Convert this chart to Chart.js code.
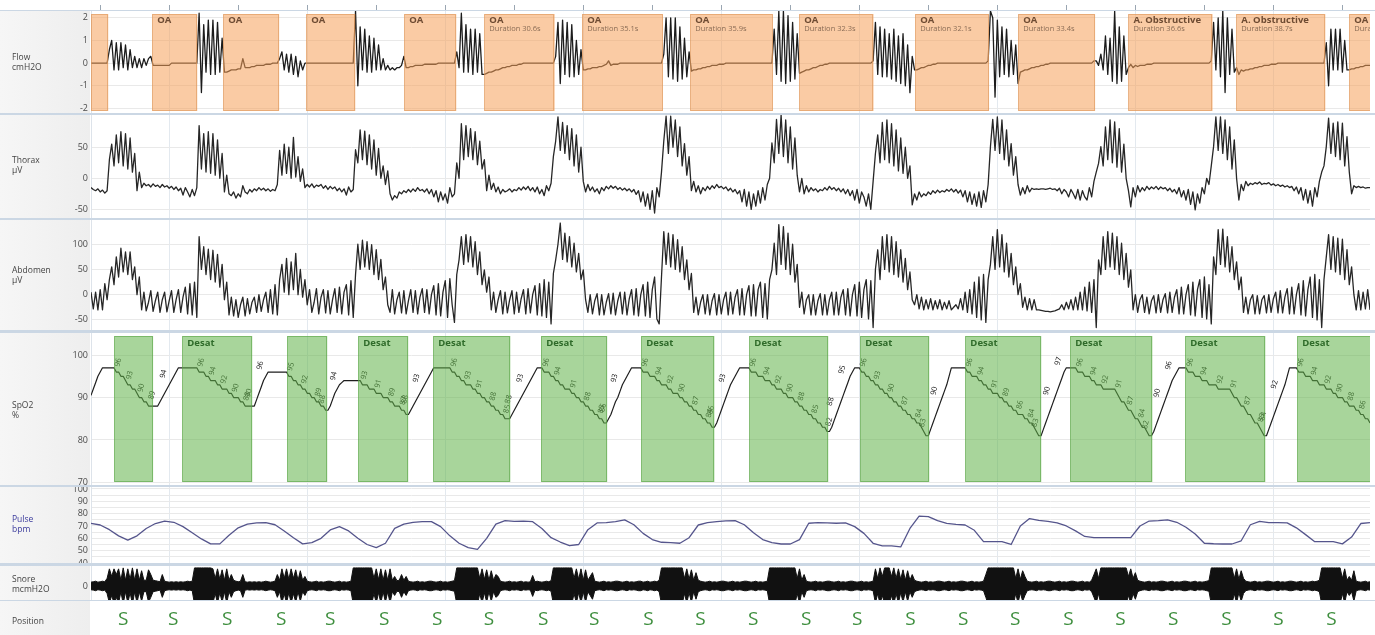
<!DOCTYPE html>
<html>
<head>
<meta charset="utf-8">
<script src="https://cdn.jsdelivr.net/npm/chart.js@4.4.1/dist/chart.umd.min.js"></script>
<style>
  body { margin: 0; background: #fff; width: 1375px; height: 635px; overflow: hidden; position: relative; font-family: "Open Sans", "DejaVu Sans", sans-serif; }
  .side { position: absolute; left: 0; width: 90px; background: linear-gradient(90deg, #f6f6f6, #eeeeee); }
  .sep { position: absolute; left: 0; width: 1375px; background: #cbd7e4; z-index: 5; }
  .lbl { position: absolute; left: 12px; font-size: 8.5px; line-height: 10px; color: #444; z-index: 6; }
  canvas { position: absolute; left: 0; }
</style>
</head>
<body>
<script>
// ---- time base: one sample per second from -4 s, pulse every 4 s ----
const T0 = -4;
const X_MIN = -4, X_MAX = 552;
const xTicks = [0, 30, 60, 90, 120, 150, 180, 210, 240, 270, 300, 330, 360, 390, 420, 450, 480, 510, 540];

// ---- scored events (seconds) ----
const oaStart = [-4, 22.6, 53.5, 89.6, 132.2, 167, 209.5, 256.5, 303.9, 354.3, 399.1, 447, 493.9, 543];
const oaEnd = [3.5, 42.2, 77.8, 110.9, 154.8, 197.6, 244.6, 292.4, 336.2, 386.4, 432.5, 483.6, 532.6, 562];
const oaType = ['', 'OA', 'OA', 'OA', 'OA', 'OA', 'OA', 'OA', 'OA', 'OA', 'OA', 'A. Obstructive', 'A. Obstructive', 'OA'];
const oaDuration = [null, null, null, null, null, 30.6, 35.1, 35.9, 32.3, 32.1, 33.4, 36.6, 38.7, 31.2];

const desatStart = [6.1, 35.7, 81.3, 112.2, 144.8, 191.7, 235.2, 282.2, 330.4, 376.1, 421.7, 471.7, 520.4];
const desatEnd = [23.0, 66.1, 98.7, 133.9, 178.3, 220.4, 267.0, 316.5, 360.4, 409.1, 457.4, 506.5, 562];
const desatLabel = ['', 'Desat', '', 'Desat', 'Desat', 'Desat', 'Desat', 'Desat', 'Desat', 'Desat', 'Desat', 'Desat', 'Desat'];

const posTimes = [10, 31.7, 55.2, 78.7, 100, 123.5, 146.5, 169, 192.6, 214.8, 238.3, 260.9, 283.9, 306.9, 329.1, 352.2, 375.2, 397.8, 420.9, 443.5, 466.5, 489.6, 512.2, 535.2];
const posCodes = ['S', 'S', 'S', 'S', 'S', 'S', 'S', 'S', 'S', 'S', 'S', 'S', 'S', 'S', 'S', 'S', 'S', 'S', 'S', 'S', 'S', 'S', 'S', 'S'];

// ---- tick values ----
const flowTicks = [-2, -1, 0, 1, 2];
const thoraxTicks = [-50, 0, 50];
const abdomenTicks = [-50, 0, 50, 100];
const spo2Ticks = [70, 80, 90, 100];
const pulseTicks = [40, 45, 50, 55, 60, 65, 70, 75, 80, 85, 90, 95, 100];
const snoreTicks = [0];

// ---- Flow, cmH2O (1 s) ----
const flow = [
  0,0,0,0,0,0,0,0,
  0.6,1.0,-0.3,0.9,-0.3,0.9,-0.2,0.8,-0.3,0.6,-0.2,0.3,-0.2,0.2,-0.2,0.2,-0.1,0.2,0.3,
  -0.1,-0.1,-0.1,-0.1,-0.1,-0.1,-0.1,-0.1,0,0,0,0,0,0,0,0,0,0,0,0,
  2.2,-1.3,1.7,-0.4,1.9,-0.5,1.9,-0.5,1.8,-0.4,1.1,
  -0.4,-0.4,-0.35,-0.3,-0.3,-0.3,-0.25,-0.25,0.2,-0.2,-0.2,-0.2,-0.15,-0.15,-0.1,-0.1,-0.1,-0.1,-0.05,-0.05,-0.05,0,0,0,
  0.2,0.5,-0.3,0.4,-0.4,0.4,-0.5,0.3,-0.6,0.1,-0.3,0,
  0,0,0,0,0,0,0,0,0,0,0,0,0,0,0,0,0,0,0,0,0,
  2.3,-1.0,1.6,-0.3,1.5,-0.4,1.2,-0.4,1.1,-0.3,0.8,-0.3,0.2,-0.3,-0.1,-0.3,-0.2,-0.3,-0.2,-0.2,-0.1,0.3,
  -0.2,-0.2,-0.15,-0.15,-0.1,-0.1,-0.1,-0.1,-0.05,-0.05,-0.05,-0.05,-0.05,-0.05,0,0,0,0,0,0,0,0,
  0.5,-0.2,2.2,-0.4,1.7,-0.4,1.5,-0.5,1.5,-0.4,1.3,-0.5,
  -0.5,-0.45,-0.4,-0.4,-0.35,-0.3,-0.3,-0.25,-0.2,-0.2,-0.15,-0.15,-0.1,-0.1,-0.1,-0.05,-0.05,0,0,0,0,0,0,0,0,0,0,0,0,0,0,
  0.3,1.8,-0.9,1.9,-0.5,1.8,-0.6,1.7,-0.6,1.0,-0.5,0.6,
  -0.3,-0.3,-0.25,-0.25,-0.2,-0.2,-0.2,-0.15,-0.15,-0.1,-0.05,0.1,-0.1,-0.05,-0.05,-0.05,0,0,0,0,0,0,0,0,0,0,0,0,0,0,0,0,0,0,0,
  0.4,2.0,-0.6,2.0,-0.7,2.0,-0.8,1.6,-0.7,1.1,-0.6,0.5,
  -0.35,-0.3,-0.3,-0.25,-0.25,-0.2,-0.2,-0.15,-0.15,-0.1,-0.1,-0.1,-0.05,-0.05,-0.05,0,0,0,0,0,0,0,0,0,0,0,0,0,0,0,0,0,0,0,0,0,
  1.5,-0.5,2.3,-0.8,2.3,-0.9,2.1,-0.8,1.8,-0.7,1.3,
  -0.45,-0.4,-0.35,-0.3,-0.3,-0.25,-0.2,-0.2,-0.15,-0.1,-0.1,-0.05,-0.05,0,0,0,0,0,0,0,0,0,0,0,0,0,0,0,0,0,0,0,0.1,
  1.8,-0.5,1.6,-0.6,1.5,-0.6,1.3,-0.7,1.5,-0.8,1.2,-0.9,1.3,-1.0,0.8,-1.3,0.3,-0.3,
  -0.3,-0.25,-0.2,-0.2,-0.15,-0.1,-0.1,-0.05,-0.05,0,0,0,0,0,0,0,0,0,0,0,0,0,0,0,0,0,0,0,0,0,0,0.1,
  2.3,2.0,-1.5,1.9,-0.6,1.6,-0.5,1.5,-0.6,1.0,-0.5,0.8,-0.9,
  -0.4,-0.35,-0.3,-0.3,-0.25,-0.2,-0.2,-0.15,-0.15,-0.1,-0.1,-0.05,-0.05,0,0,0,0,0,0,0,0,0,0,0,0,0,0,0,0,0,0,0,0.1,
  0.1,-0.1,0.4,-0.3,1.2,-0.5,1.1,-0.8,2.3,-0.9,1.6,-0.8,1.2,-0.5,
  -0.2,-0.05,-0.2,-0.1,-0.15,-0.1,-0.1,-0.1,-0.05,-0.05,-0.05,0,0,0,0,0,0,0,0,0,0,0,0,0,0,0,0,0,0,0,0,0,0,0,0,0,0.1,
  1.8,-0.3,2.0,-0.6,2.3,-1.3,2.0,-0.5,1.5,-0.4,
  -0.2,-0.5,-0.3,-0.35,-0.3,-0.3,-0.25,-0.25,-0.2,-0.2,-0.15,-0.15,-0.1,-0.1,-0.1,-0.05,-0.05,-0.05,0,0,0,0,0,0,0,0,0,0,0,0,0,0,0,0,0,0,0,0,0,
  0.9,-1.0,1.5,-0.3,1.5,-0.3,1.5,-0.4,1.0,-0.3,
  -0.3,-0.25,-0.25,-0.2,-0.2,-0.15,-0.15,-0.1,-0.1,-0.1
];

// ---- Thorax, µV (1 s) ----
const thorax = [
  -15,-18,-20,-17,-22,-19,-24,-20,
  30,55,20,70,25,75,20,72,15,65,10,40,-20,10,-15,
  -8,-12,-10,-14,-9,-13,-11,-15,-10,-14,-12,-16,-13,-18,-14,-20,-16,-27,-15,-22,-30,-18,-28,-15,
  85,15,72,10,75,8,72,5,62,0,40,-22,5,-25,
  -28,-22,-32,-25,-30,-12,-22,-25,-18,-22,-17,-20,-15,-19,-16,-20,-17,-21,-18,-20,-10,
  45,5,55,8,50,0,66,2,35,-5,15,-15,
  -10,-14,-9,-15,-11,-13,-10,-16,-12,-18,-13,-17,-14,-20,-16,-22,-17,-27,-14,-22,-18,
  46,25,78,30,76,22,70,15,62,5,48,0,20,-10,12,-25,
  -35,-28,-32,-22,-25,-20,-23,-18,-22,-17,-21,-15,-20,-18,-22,-17,-25,-18,-30,-20,-38,-22,-35,-25,-40,-15,-30,-25,
  25,0,88,30,85,35,80,30,75,22,60,15,30,
  -20,5,-18,-8,-22,-14,-25,-18,-22,-20,-17,-22,-18,-20,-15,-19,-14,-18,-13,-20,-15,-22,-14,-25,-18,-28,-12,-20,-8,
  35,60,99,45,90,40,85,30,80,20,70,10,50,-5,
  -22,-10,-20,-14,-22,-17,-25,-15,-20,-13,-17,-12,-16,-13,-18,-15,-19,-16,-20,-17,-22,-18,-26,-20,-38,-22,-45,-25,-50,-20,-56,-15,-30,
  10,60,100,40,100,50,94,35,83,20,56,5,35,
  -20,-5,-22,-12,-25,-15,-20,-13,-18,-12,-16,-10,-15,-13,-17,-14,-20,-16,-22,-18,-25,-20,-38,-18,-45,-22,-50,-25,-45,-20,-40,-15,-35,-10,0,
  57,25,95,40,102,35,94,25,83,15,65,5,
  -22,0,-25,-12,-22,-15,-20,-17,-22,-18,-20,-15,-19,-13,-18,-15,-20,-16,-22,-17,-25,-18,-28,-20,-35,-18,-40,-22,-30,-45,-25,-50,-5,
  40,70,25,90,30,94,25,88,20,78,12,65,8,50,0,20,-43,
  -25,-35,-22,-30,-25,-28,-22,-26,-20,-24,-19,-23,-20,-22,-18,-21,-17,-22,-18,-24,-19,-30,-20,-38,-22,-42,-25,-45,-22,-47,-20,-38,-10,
  51,95,45,99,40,94,30,78,20,56,5,35,-10,-27,
  -15,-25,-12,-22,-16,-18,-17,-18,-17,-17,-18,-17,-16,-18,-17,-20,-16,-25,-18,-22,-30,-18,-25,-33,-18,-35,-20,-30,-35,-15,-30,-5,
  10,24,51,20,83,30,94,25,91,18,80,10,55,0,
  -20,-46,-15,-30,-12,-22,-15,-20,-13,-18,-14,-17,-13,-18,-14,-17,-15,-20,-16,-22,-18,-25,-15,-30,-20,-35,-18,-42,-22,-51,-25,-40,-15,-25,0,-10,20,
  51,99,45,99,40,94,30,83,15,62,0,-35,
  -10,-20,-5,-12,-8,-10,-7,-9,-6,-10,-8,-9,-7,-11,-9,-12,-10,-13,-11,-14,-12,-15,-13,-20,-14,-25,-15,-35,-18,-40,-20,-45,-15,-30,-5,10,
  20,51,97,40,89,35,91,30,89,20,67,10,-25,
  -12,-15,-13,-15,-14,-16,-15,-15
];

// ---- Abdomen, µV (1 s) ----
const abdomen = [
  5,-28,5,-30,10,-30,22,-10,
  30,55,20,75,35,92,45,85,40,85,30,55,0,35,
  -30,5,-32,-15,8,-33,-12,5,-35,-10,5,-34,-12,8,-35,-10,10,-35,-5,15,-38,22,-40,25,-45,
  115,50,95,40,90,30,88,25,80,15,60,-10,25,
  -40,-5,-42,-10,-45,-20,-5,-42,-8,-38,-15,-5,-35,0,-33,-10,5,-35,10,-38,20,-40,
  30,60,5,72,0,65,10,82,0,50,-5,30,-20,
  10,-35,-15,12,-38,-5,10,-36,8,-38,-10,12,-35,15,-38,5,20,-40,28,-45,
  40,100,50,108,55,105,50,99,40,89,30,70,10,35,-20,
  -35,10,-38,-10,5,-36,8,-38,-12,10,-35,8,-38,-5,12,-35,10,-38,0,18,-40,22,-42,5,28,-45,32,-20,-55,
  40,69,115,60,119,65,115,55,105,40,85,20,49,5,35,
  -30,5,-35,-10,8,-38,5,-36,-10,8,-38,5,-35,-8,10,-38,12,-36,0,18,-40,22,-42,30,-45,25,-58,
  42,69,100,142,70,122,65,115,55,102,45,82,30,49,-10,
  -35,0,-38,-12,2,-40,0,-40,-15,2,-38,3,-40,-12,5,-38,5,-40,-8,10,-40,12,-42,0,20,-42,25,-45,10,35,-48,-58,
  35,125,60,122,55,119,50,109,45,95,30,69,10,42,
  -35,-5,-40,-15,0,-38,0,-40,-12,2,-40,0,-38,-10,5,-40,5,-38,-5,10,-40,12,-40,0,18,-42,20,-42,10,25,-45,22,-48,30,
  49,102,40,139,60,135,50,122,40,100,25,60,
  -25,5,-38,-10,0,-40,0,-40,-12,2,-40,0,-40,-10,5,-40,5,-40,-5,10,-40,12,-42,0,20,-42,25,-45,10,30,-48,28,-65,
  50,89,30,115,50,119,45,115,40,105,35,89,25,72,10,45,-10,
  -20,0,-28,-5,-30,-10,-28,-8,-30,-12,-28,-10,-30,-15,-28,-12,-30,-25,-20,-28,-8,-30,5,-35,10,-38,25,-45,35,-50,40,-55,30,
  60,115,50,129,55,119,45,102,35,82,20,55,0,22,
  -25,-5,-30,-8,-30,-10,-30,-30,-31,-32,-33,-33,-34,-33,-32,-30,-28,-20,-30,-15,-28,-10,-30,-5,-30,5,-30,15,-32,25,-35,30,
  -65,69,40,115,50,125,55,122,50,115,40,102,30,82,15,49,
  -30,0,-35,-10,0,-35,-5,-38,-12,-2,-36,0,-35,-10,2,-36,5,-35,-5,10,-38,15,-38,0,20,-40,25,-42,10,30,-45,35,-48,20,-58,
  75,40,129,60,130,55,115,45,95,30,65,10,35,
  -35,-5,-38,-10,0,-38,-2,-38,-10,-2,-36,0,-35,-8,5,-36,8,-36,-5,12,-38,15,-38,0,22,-40,28,-42,10,35,-45,40,-50,30,-65,
  30,75,119,50,115,45,112,40,110,30,89,20,55,0,
  -30,8,-30,5,-28,10,-30
];

// ---- SpO2, % (1 s) ----
const spo2 = [
  90.5,92,93.5,95,96,97, 97,97,97,97,97,
  96,96,95,95,94,93,93,92,92,91,90,90,89,89,88,88,88, 88,88,
  89,90,91,92,93,94,95,96,97,97, 97,97,97,97,97,97,
  97,96,96,96,95,95,94,94,94,93,93,92,92,92,91,91,90,90,90,89,89,88,88,88, 88,88,
  89.5,91,92.5,94,95,96, 96,96,96,96,96,96,96,96,
  95,95,94,94,93,93,92,92,91,91,90,90,89,89,88,88,87,87,
  88,89.5,91,92,93,93.5,94, 94,94,94,94,94,94,
  94,93,93,93,92,92,92,91,91,91,90,90,90,89,89,88,88,88,87,87,86,86,
  87,88,89,90,91,92,93,94,95,96, 97,97,97,97,97,97,97,97,
  96,96,95,95,94,94,93,93,93,92,92,91,91,90,90,89,89,88,88,87,87,86,86,85,85,85,
  86,87,88,89,90,91,92,93,94,95,96, 97,97,97,
  96,96,96,95,95,94,94,93,93,92,92,92,91,91,90,90,89,89,88,88,87,87,86,86,85,85,84,84,
  85,86,87.5,89,90,91.5,93,94,95,96,97, 97,97,97,97,
  96,96,96,95,95,95,94,94,93,93,93,92,92,91,91,91,90,90,89,89,88,88,87,87,86,86,85,85,84,84,83,83,
  84,85.5,87,88.5,90,91.5,93,94,95,96,97, 97,97,97,97,
  96,96,96,95,95,95,94,94,94,93,93,92,92,92,91,91,90,90,90,89,89,88,88,87,87,86,86,85,85,84,84,83,83,82,82,
  83,84.5,86,87.5,89,90.5,92,93.5,95,96,97, 97,97,
  96,96,95,95,94,94,93,93,92,92,91,91,90,90,89,89,88,88,87,87,86,86,85,85,84,84,83,82,81,81,
  82.5,84,85.5,87,88.5,90,91.5,93,95,97, 97,97,97,97,97,97,
  96,96,95,95,95,94,94,93,93,92,92,91,91,91,90,90,89,89,88,88,87,87,86,86,86,85,85,84,84,83,82,81,81,
  82.5,84,85.5,87,88.5,90,91.5,93,94.5,96,97, 97,97,
  97,97,96,96,96,95,95,95,94,94,93,93,93,92,92,92,92,92,92,91,90,89,89,88,87,87,86,85,85,84,83,83,82,81,81,
  82,83.5,85,86.5,88,89.5,91,92.5,94,95,96,97, 97,97,97,
  96,96,96,95,95,95,94,94,94,93,93,93,93,92,92,92,92,92,92,91,90,90,89,88,88,87,86,86,85,84,84,83,82,81,81,
  82.5,84,85.5,87,88.5,90,91.5,93,95,97, 97,97,97,
  96,96,96,95,95,95,94,94,94,93,93,93,92,92,92,91,91,90,90,90,89,89,88,88,88,87,87,86,86,85,85,84
];

// ---- Pulse, bpm (4 s) ----
const pulse = [
  72.2,70.8,67,62,58.5,62,68,72,74,73,
  69.5,64.5,59.5,55.5,55.5,62.5,68.5,71.5,72.5,72.7,
  71,66,60.5,55.5,56.5,60,66.8,69.5,66,60,
  55,52.5,56,68,71.5,73,73.5,73.5,69.5,62,
  56,52.5,51,60,71.5,74.3,73.8,74,73.5,68,
  60.5,57,54,55,67,72.5,72.7,73.5,74.9,71,
  64,59,56.8,56.5,56,60.5,70.8,72.7,73.5,74.2,
  74.3,71,64.5,59,56.5,55.4,55.4,59,72.2,72.7,
  72.5,72.2,72.5,69.5,64,56,53.8,53.8,53,68,
  78,77.6,74.3,72.2,71.3,70.8,66.5,57.3,57.3,57.3,
  55,70,76,74.5,73.8,72.5,70,66,61.5,60.5,
  60.5,60.5,60.5,60.5,70,74,74.3,74.9,73,69,
  63.5,56,55.6,55.4,55.4,58,71,73.8,72.7,72.7,
  72.5,68.5,63,57.3,57.3,57.3,55.5,61,72,72.7
];

// ---- Snore envelope, mcmH2O (1 s) ----
const snore = [
  0.2,0.22,0.25,0.2,0.22,0.25,0.22,
  0.4,0.9,0.5,0.9,0.6,0.9,0.3,0.95,0.3,0.9,0.35,0.95,0.3,0.9,0.3,0.8,0.3,0.3,0.85,0.6,0.3,
  0.28,0.25,0.22,0.6,0.25,0.22,0.2,0.22,0.2,0.22,0.2,0.22,0.2,0.22,0.25,0.22,0.25,
  0.95,0.95,0.95,0.95,0.95,0.95,0.95,0.95,0.9,0.4,0.9,0.35,0.85,0.3,0.9,0.3,0.6,0.3,0.25,0.22,0.25,0.6,
  0.22,0.2,0.22,0.2,0.22,0.2,0.22,0.2,0.22,0.25,0.22,0.2,0.22,0.25,
  0.6,0.3,0.9,0.4,0.9,0.35,0.9,0.4,0.85,0.3,0.8,0.3,0.5,
  0.25,0.22,0.2,0.22,0.25,0.2,0.22,0.2,0.22,0.25, 0.25,0.22,0.2,0.22,0.25,0.2,0.22,0.2,0.22,0.25,
  0.95,0.95,0.95,0.95,0.95,0.95,0.95,0.95,0.95,0.4,0.9,0.35,0.9,0.3,0.85,0.3,0.9,0.3,0.5,0.28,0.3,0.6,0.3,0.5,
  0.25,0.22,0.2,0.22,0.25,0.2,0.22,0.2,0.22,0.25, 0.25,0.22,0.2,0.22,0.25,0.2,0.22,0.2,0.22,0.25, 0.28,
  0.95,0.95,0.95,0.95,0.95,0.95,0.95,0.95,0.95,0.95,0.4,0.9,0.35,0.85,0.3,0.8,0.3,0.6,
  0.5,0.25,0.22,0.2,0.22,0.25,0.2,0.22,0.2,0.22,0.25,0.2,0.22,0.2,0.22,0.55,0.22,0.25,0.22,0.2,0.22,0.25,0.22,0.28,
  0.95,0.95,0.95,0.95,0.95,0.95,0.95,0.95,0.95,0.4,0.9,0.35,0.9,0.3,0.85,0.3,0.5,0.7,
  0.25,0.22,0.2,0.22,0.25,0.2,0.22,0.2,0.22,0.25, 0.25,0.22,0.2,0.22,0.25,0.2,0.22,0.2,0.22,0.25, 0.25,0.2,0.22,0.25,0.2,0.22,0.25,0.22,0.3,
  0.95,0.95,0.95,0.95,0.95,0.95,0.95,0.95,0.95,0.95,0.4,0.9,0.35,0.85,0.3,0.7,0.3,
  0.25,0.22,0.2,0.22,0.25,0.2,0.22,0.2,0.22,0.25, 0.25,0.22,0.2,0.22,0.25,0.2,0.22,0.2,0.22,0.25, 0.25,0.22,0.2,0.22,0.25,0.2,0.22,0.2,0.22,0.25,
  0.95,0.95,0.95,0.95,0.95,0.95,0.95,0.95,0.95,0.95,0.95,0.95,0.4,0.9,0.3,0.6,
  0.25,0.22,0.2,0.22,0.25,0.2,0.22,0.2,0.22,0.25, 0.25,0.22,0.2,0.22,0.25,0.2,0.22,0.2,0.22,0.25, 0.25,0.22,0.2,0.22,0.25,0.2,0.22,0.2,0.22,0.25,
  0.9,0.4,0.95,0.5,0.95,0.95,0.95,0.5,0.95,0.4,0.9,0.35,0.85,0.3,0.8,0.3,0.6,0.3,
  0.25,0.22,0.2,0.22,0.25,0.2,0.22,0.2,0.22,0.25, 0.25,0.22,0.2,0.22,0.25,0.2,0.22,0.2,0.22,0.25, 0.25,0.22,0.2,0.22,0.25,0.2,0.22,0.2,0.22,0.25,
  0.6,0.95,0.95,0.95,0.95,0.95,0.95,0.95,0.95,0.95,0.95,0.95,0.95,0.4,0.9,0.35,0.8,0.5,
  0.25,0.22,0.2,0.22,0.25,0.2,0.22,0.2,0.22,0.25, 0.25,0.22,0.2,0.22,0.25,0.2,0.22,0.2,0.22,0.25, 0.25,0.22,0.2,0.22,0.25,0.2,0.22,0.2,0.3,
  0.6,0.9,0.4,0.95,0.95,0.95,0.95,0.95,0.95,0.95,0.95,0.95,0.95,0.95,0.95,0.5,0.9,0.4,0.7,0.3,
  0.25,0.22,0.2,0.22,0.25,0.2,0.22,0.2,0.22,0.25, 0.25,0.22,0.2,0.22,0.25,0.2,0.22,0.2,0.22,0.25, 0.25,0.22,0.2,0.22,0.25,0.2,0.22,0.2,0.22,0.25, 0.28,
  0.95,0.95,0.95,0.95,0.95,0.95,0.95,0.95,0.95,0.95,0.4,0.9,0.35,0.8,0.4,
  0.25,0.22,0.2,0.22,0.25,0.2,0.22,0.2,0.22,0.25, 0.25,0.22,0.2,0.22,0.25,0.2,0.22,0.2,0.22,0.25, 0.25,0.22,0.2,0.22,0.25,0.2,0.22,0.2,0.22,0.25, 0.22,0.25,0.3,
  0.95,0.95,0.95,0.95,0.95,0.95,0.95,0.95,0.95,0.4,0.9,0.3,0.5,0.3,0.8,
  0.25,0.22,0.2,0.22,0.25,0.2,0.22
];

// ---- page furniture ----
Chart.defaults.font.family = '"Open Sans", "DejaVu Sans", sans-serif';
Chart.defaults.font.size = 9;

function addDiv(cls, top, h, html) {
  const d = document.createElement('div');
  d.className = cls;
  d.style.top = top + 'px';
  if (h != null) d.style.height = h + 'px';
  if (html) d.innerHTML = html;
  document.body.appendChild(d);
  return d;
}

[[11, 102], [115, 103], [220, 110], [333, 152], [487, 76], [566, 34], [601, 34]].forEach(p => addDiv('side', p[0], p[1]));
[[10, 1], [113, 2], [218, 2], [330, 3], [485, 2], [563, 3], [600, 1]].forEach(p => addDiv('sep', p[0], p[1]));
addDiv('lbl', 52, null, 'Flow<br>cmH2O');
addDiv('lbl', 155, null, 'Thorax<br>µV');
addDiv('lbl', 265, null, 'Abdomen<br>µV');
addDiv('lbl', 400, null, 'SpO2<br>%');
addDiv('lbl', 514, null, 'Pulse<br>bpm').style.color = '#3a3a9c';
addDiv('lbl', 574, null, 'Snore<br>mcmH2O');
addDiv('lbl', 616, null, 'Position');

function addCanvas(top, h) {
  const c = document.createElement('canvas');
  c.width = 1375; c.height = h;
  c.style.top = top + 'px';
  c.style.width = '1375px'; c.style.height = h + 'px';
  document.body.appendChild(c);
  return c;
}

function series(vals, t0, dt) {
  return vals.map((v, i) => ({ x: t0 + i * dt, y: v }));
}

function lineDs(vals, dt, color, width) {
  return {
    data: series(vals, T0, dt),
    borderColor: color, borderWidth: width,
    pointRadius: 0, tension: 0, borderJoinStyle: 'round', fill: false
  };
}

function xScale(top, showGrid) {
  return {
    type: 'linear', min: X_MIN, max: X_MAX,
    position: top ? 'top' : 'bottom',
    afterBuildTicks: s => { s.ticks = xTicks.map(v => ({ value: v })); },
    afterFit: s => { s.height = top ? 11 : 0; s.paddingLeft = 0; s.paddingRight = 0; },
    ticks: { display: false },
    grid: {
      color: c => (showGrid && c.tick && c.tick.value % 60 === 30) ? '#e3e9ef' : 'rgba(0,0,0,0)',
      drawTicks: !!top, tickLength: 6, tickColor: '#9aa6b2'
    },
    border: { display: false }
  };
}

// plot area has to fill the whole strip, so the label padding is dropped
function yScale(min, max, ticks, cb) {
  return {
    min, max,
    afterFit: s => { s.width = 91; s.paddingTop = 0; s.paddingBottom = 0; },
    afterBuildTicks: s => { s.ticks = ticks.map(v => ({ value: v })); },
    ticks: { color: '#4a4a4a', font: { size: 9 }, padding: 3, autoSkip: false, callback: cb || (v => v) },
    grid: { color: '#e9e9e9', drawTicks: false },
    border: { color: '#dde3ea' }
  };
}

function options(y, top) {
  return {
    responsive: false, animation: false, events: [],
    layout: { padding: { left: 0, right: 5, top: 0, bottom: 0 } },
    plugins: { legend: { display: false }, tooltip: { enabled: false } },
    scales: { x: xScale(top, true), y }
  };
}

function clipArea(ctx, a) {
  ctx.beginPath();
  ctx.rect(a.left, a.top, a.right - a.left, a.bottom - a.top);
  ctx.clip();
}

// ---- Flow + apnea events ----
const apneaPlugin = {
  id: 'apnea',
  afterDatasetsDraw(chart) {
    const { ctx, chartArea: a, scales: { x } } = chart;
    ctx.save();
    clipArea(ctx, a);
    oaStart.forEach((s, i) => {
      const x0 = x.getPixelForValue(s), x1 = x.getPixelForValue(oaEnd[i]);
      const y0 = a.top + 3, y1 = a.bottom - 2;
      ctx.fillStyle = 'rgba(245,160,90,0.55)';
      ctx.fillRect(x0, y0, x1 - x0, y1 - y0);
      ctx.strokeStyle = 'rgba(220,150,90,0.6)';
      ctx.lineWidth = 1;
      ctx.strokeRect(Math.round(x0) + 0.5, y0 + 0.5, Math.round(x1 - x0) - 1, y1 - y0 - 1);
      if (!oaType[i]) return;
      ctx.textBaseline = 'middle';
      ctx.textAlign = 'left';
      ctx.fillStyle = '#6e4b32';
      ctx.font = 'bold 9.5px "Open Sans", sans-serif';
      ctx.fillText(oaType[i], x0 + 5, a.top + 9.5);
      if (oaDuration[i] != null) {
        ctx.fillStyle = '#8a6c55';
        ctx.font = '7.5px "Open Sans", sans-serif';
        ctx.fillText('Duration ' + oaDuration[i].toFixed(1) + 's', x0 + 5, a.top + 17.5);
      }
    });
    ctx.restore();
  }
};

new Chart(addCanvas(0, 113), {
  type: 'line',
  data: { datasets: [lineDs(flow, 1, '#1c1c1c', 1.3)] },
  options: options(yScale(-2.2, 2.3, flowTicks), true),
  plugins: [apneaPlugin]
});

new Chart(addCanvas(115, 103), {
  type: 'line',
  data: { datasets: [lineDs(thorax, 1, '#262626', 1.3)] },
  options: options(yScale(-64, 102, thoraxTicks), false)
});

new Chart(addCanvas(220, 110), {
  type: 'line',
  data: { datasets: [lineDs(abdomen, 1, '#262626', 1.3)] },
  options: options(yScale(-70, 148, abdomenTicks), false)
});

// ---- SpO2 + desaturation events ----
const desatPlugin = {
  id: 'desat',
  afterDatasetsDraw(chart) {
    const { ctx, chartArea: a, scales: { x } } = chart;
    const pts = chart.getDatasetMeta(0).data;
    ctx.save();
    clipArea(ctx, a);
    // value marks along the curve
    ctx.fillStyle = '#222';
    ctx.font = '7.5px "Open Sans", sans-serif';
    ctx.textBaseline = 'alphabetic';
    let lastX = -99, lastV = Math.round(spo2[0]);
    for (let i = 1; i < spo2.length; i++) {
      const v = Math.round(spo2[i]);
      if (v === lastV) continue;
      const rising = v > lastV;
      lastV = v;
      const p = pts[i];
      if (p.x - lastX < 11) continue;
      lastX = p.x;
      ctx.save();
      ctx.translate(p.x + (rising ? -7 : 3), p.y + (rising ? -2 : -5));
      ctx.rotate(-Math.PI * 0.42);
      ctx.fillText(String(v), 0, 0);
      ctx.restore();
    }
    desatStart.forEach((s, i) => {
      const x0 = x.getPixelForValue(s), x1 = x.getPixelForValue(desatEnd[i]);
      const y0 = a.top + 3, y1 = a.bottom - 3;
      ctx.fillStyle = 'rgba(97,179,73,0.55)';
      ctx.fillRect(x0, y0, x1 - x0, y1 - y0);
      ctx.strokeStyle = 'rgba(90,165,70,0.6)';
      ctx.lineWidth = 1;
      ctx.strokeRect(Math.round(x0) + 0.5, y0 + 0.5, Math.round(x1 - x0) - 1, y1 - y0 - 1);
      if (desatLabel[i]) {
        ctx.fillStyle = '#2f6b2a';
        ctx.font = 'bold 9.5px "Open Sans", sans-serif';
        ctx.textBaseline = 'middle';
        ctx.fillText(desatLabel[i], x0 + 5, a.top + 10);
      }
    });
    ctx.restore();
  }
};

new Chart(addCanvas(333, 152), {
  type: 'line',
  data: { datasets: [lineDs(spo2, 1, '#1e1e1e', 1.2)] },
  options: options(yScale(69.4, 105.2, spo2Ticks), false),
  plugins: [desatPlugin]
});

new Chart(addCanvas(487, 76), {
  type: 'line',
  data: { datasets: [lineDs(pulse, 4, '#55558c', 1.3)] },
  options: options(yScale(40, 101.6, pulseTicks, v => (v % 10 === 0 ? v : '')), false)
});

// ---- Snore: envelope filled between +amp and -amp ----
new Chart(addCanvas(566, 34), {
  type: 'line',
  data: {
    datasets: [
      { data: series(snore, T0, 1), borderColor: '#111', backgroundColor: '#111', borderWidth: 1, pointRadius: 0, tension: 0, fill: '+1' },
      { data: series(snore.map(v => -v), T0, 1), borderColor: '#111', borderWidth: 1, pointRadius: 0, tension: 0, fill: false }
    ]
  },
  options: options(yScale(-0.74, 1.05, snoreTicks), false)
});

// ---- Body position ----
const positionPlugin = {
  id: 'position',
  afterDatasetsDraw(chart) {
    const { ctx, chartArea: a, scales: { x } } = chart;
    ctx.save();
    ctx.fillStyle = '#3f8f3f';
    ctx.font = '19px "Open Sans", sans-serif';
    ctx.textAlign = 'center';
    ctx.textBaseline = 'middle';
    posTimes.forEach((t, i) => ctx.fillText(posCodes[i], x.getPixelForValue(t), a.top + a.height / 2 + 2));
    ctx.restore();
  }
};

new Chart(addCanvas(601, 34), {
  type: 'line',
  data: { datasets: [{ data: [] }] },
  options: {
    responsive: false, animation: false, events: [],
    layout: { padding: { left: 91, right: 5 } },
    plugins: { legend: { display: false }, tooltip: { enabled: false } },
    scales: { x: xScale(false, false), y: { display: false, min: 0, max: 1 } }
  },
  plugins: [positionPlugin]
});
</script>
</body>
</html>
